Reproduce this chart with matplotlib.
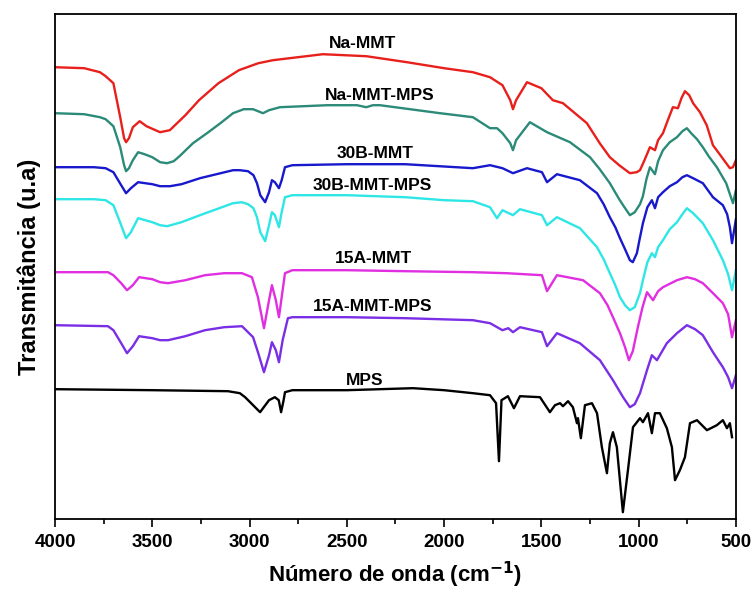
import matplotlib
matplotlib.use("Agg")
import matplotlib.pyplot as plt
from matplotlib.ticker import MultipleLocator

plt.rcParams['font.family'] = ['Liberation Sans', 'DejaVu Sans']
plt.rcParams['font.weight'] = 'bold'

# espectros (numero de onda, transmitancia em u.a.)
na_mmt_wn = [4000, 3850, 3769, 3740, 3700, 3665, 3645, 3635, 3620, 3600, 3565, 3530, 3460, 3410, 3330,
             3260, 3160, 3055, 2955, 2880, 2623, 2400, 2191, 2000, 1852, 1764, 1700, 1660, 1646, 1630,
             1574, 1500, 1441, 1389, 1266, 1200, 1148, 1100, 1045, 1010, 993, 970, 942, 916, 900,
             875, 850, 824, 798, 780, 762, 740, 720, 685, 650, 618, 580, 531, 515, 500]
na_mmt_t = [452, 451, 447, 443, 436, 402, 381, 377, 381, 392, 398, 393, 387, 389, 404,
            419, 436, 449, 456, 459, 465, 463, 457, 451, 447, 442, 434, 419, 410, 419,
            437, 431, 419, 416, 396, 376, 362, 354, 346, 347, 349, 359, 372, 369, 379,
            386, 399, 412, 411, 421, 428, 424, 416, 407, 394, 374, 364, 351, 352, 359]

na_mps_wn = [4000, 3850, 3769, 3740, 3700, 3665, 3645, 3635, 3620, 3600, 3573, 3540, 3500, 3460, 3424,
             3390, 3360, 3291, 3219, 3150, 3085, 3030, 2982, 2931, 2900, 2844, 2600, 2448, 2400, 2366,
             2330, 2021, 1852, 1764, 1728, 1700, 1660, 1646, 1630, 1559, 1471, 1353, 1250, 1200, 1148,
             1100, 1080, 1045, 1020, 993, 978, 960, 942, 916, 900, 875, 840, 803, 775, 752,
             730, 700, 670, 640, 598, 550, 515, 500]
na_mps_t = [406, 405, 402, 400, 393, 372, 354, 348, 351, 359, 367, 365, 362, 357, 356,
            358, 363, 376, 386, 396, 406, 410, 410, 406, 409, 412, 414, 414, 412, 414,
            414, 406, 402, 391, 391, 386, 376, 369, 379, 397, 387, 377, 362, 350, 336,
            320, 314, 304, 307, 315, 323, 340, 352, 345, 358, 369, 377, 382, 388, 391,
            386, 380, 372, 363, 352, 336, 316, 329]

b30_wn = [4000, 3800, 3740, 3700, 3660, 3635, 3610, 3573, 3500, 3460, 3409, 3350, 3255, 3170, 3085,
          3050, 3008, 2980, 2962, 2945, 2920, 2900, 2885, 2870, 2849, 2835, 2818, 2780, 2500, 2200,
          1852, 1764, 1700, 1646, 1574, 1497, 1471, 1420, 1302, 1214, 1180, 1148, 1120, 1096, 1070,
          1045, 1030, 1009, 995, 978, 955, 932, 916, 900, 875, 840, 803, 775, 752, 720,
          700, 670, 618, 567, 545, 531, 520, 500]
b30_t = [352, 352, 351, 347, 334, 326, 331, 337, 335, 333, 333, 335, 341, 345, 349,
         349, 348, 344, 336, 324, 317, 327, 339, 337, 331, 339, 352, 354, 355, 355,
         351, 354, 351, 346, 351, 347, 337, 345, 339, 326, 315, 302, 292, 281, 270,
         259, 257, 266, 280, 296, 312, 319, 311, 322, 327, 333, 337, 342, 344, 341,
         339, 336, 322, 314, 305, 292, 276, 300]

b30_mps_wn = [4000, 3800, 3740, 3700, 3660, 3635, 3610, 3573, 3500, 3460, 3424, 3350, 3255, 3170, 3085,
              3040, 3008, 2980, 2962, 2945, 2920, 2900, 2885, 2870, 2849, 2835, 2818, 2780, 2500, 2200,
              2000, 1852, 1764, 1728, 1700, 1646, 1610, 1497, 1471, 1420, 1302, 1214, 1180, 1148, 1120,
              1096, 1070, 1045, 1020, 993, 978, 955, 932, 916, 900, 875, 840, 803, 775, 752,
              720, 670, 618, 567, 540, 520, 500]
b30_mps_t = [320, 320, 319, 314, 294, 281, 287, 301, 297, 294, 293, 297, 304, 310, 316,
             317, 315, 311, 302, 287, 278, 294, 307, 304, 292, 307, 322, 324, 324, 322,
             319, 318, 312, 301, 309, 304, 310, 304, 294, 302, 291, 272, 260, 246, 234,
             222, 214, 209, 212, 226, 239, 257, 266, 262, 272, 279, 290, 297, 305, 311,
             306, 296, 279, 259, 245, 229, 249]

a15_wn = [4000, 3728, 3700, 3660, 3630, 3600, 3568, 3500, 3460, 3419, 3330, 3229, 3130, 3039, 2988,
          2957, 2926, 2900, 2885, 2865, 2849, 2830, 2818, 2780, 2500, 2200, 1852, 1680, 1497, 1471,
          1420, 1286, 1199, 1160, 1132, 1096, 1070, 1050, 1030, 1004, 980, 957, 926, 900, 875,
          803, 752, 710, 670, 618, 567, 540, 520, 500]
a15_t = [247, 247, 244, 236, 229, 234, 242, 240, 237, 236, 239, 244, 246, 246, 242,
         222, 191, 219, 234, 219, 202, 229, 246, 249, 249, 248, 247, 246, 244, 228,
         244, 239, 226, 214, 202, 186, 172, 159, 168, 192, 212, 227, 219, 228, 232,
         239, 242, 240, 236, 226, 216, 205, 182, 199]

a15_mps_wn = [4000, 3728, 3700, 3660, 3630, 3600, 3568, 3500, 3460, 3419, 3330, 3229, 3130, 3039, 2982,
              2957, 2926, 2900, 2885, 2865, 2849, 2830, 2803, 2780, 2500, 2200, 1852, 1764, 1700, 1670,
              1646, 1610, 1497, 1471, 1420, 1302, 1199, 1132, 1080, 1045, 1020, 993, 957, 932, 906,
              855, 803, 752, 710, 670, 618, 567, 540, 520, 500]
a15_mps_t = [194, 193, 189, 176, 166, 173, 183, 181, 179, 179, 183, 189, 192, 193, 182,
             167, 147, 164, 177, 169, 157, 179, 201, 202, 202, 201, 199, 196, 189, 191,
             187, 192, 187, 173, 186, 176, 159, 139, 122, 112, 115, 126, 149, 164, 159,
             176, 186, 194, 190, 184, 167, 152, 142, 131, 144]

mps_wn = [4000, 3500, 3111, 3050, 3023, 2946, 2900, 2870, 2850, 2838, 2825, 2818, 2780, 2500, 2160,
          2000, 1852, 1764, 1733, 1718, 1705, 1672, 1641, 1610, 1507, 1456, 1430, 1404, 1389, 1363,
          1338, 1317, 1312, 1297, 1276, 1240, 1214, 1189, 1163, 1148, 1132, 1112, 1081, 1055, 1029,
          993, 978, 952, 932, 916, 891, 855, 829, 813, 788, 762, 736, 700, 649, 598,
          567, 546, 531, 520]
mps_t = [130, 129, 128, 126, 122, 107, 119, 122, 119, 107, 119, 127, 129, 129, 131,
         129, 126, 124, 116, 58, 119, 123, 111, 123, 122, 107, 114, 116, 113, 118,
         112, 96, 101, 81, 114, 116, 106, 72, 46, 76, 87, 72, 7, 49, 92,
         101, 97, 106, 86, 106, 106, 91, 72, 39, 49, 62, 96, 99, 89, 94,
         99, 91, 96, 82]

labels = ["Na-MMT", "Na-MMT-MPS", "30B-MMT", "30B-MMT-MPS", "15A-MMT", "15A-MMT-MPS", "MPS"]
colors = ["#e8201c", "#2b8a78", "#1818cc", "#2ee6e6", "#e02ee0", "#7a2ee6", "#000000"]
series = [(na_mmt_wn, na_mmt_t), (na_mps_wn, na_mps_t), (b30_wn, b30_t), (b30_mps_wn, b30_mps_t),
          (a15_wn, a15_t), (a15_mps_wn, a15_mps_t), (mps_wn, mps_t)]
# onde fica o nome de cada curva
label_pos = [(2417, 476), (2330, 424), (2355, 366), (2370, 334), (2365, 261), (2370, 213), (2407, 139)]

fig = plt.figure(figsize=(7.54, 5.92), dpi=100)
ax = fig.add_axes([0.073, 0.123, 0.903, 0.853])

for (wn, t), c in zip(series, colors):
    ax.plot(wn, t, color=c, lw=1.7, solid_joinstyle='round')

for name, (x, y) in zip(labels, label_pos):
    ax.text(x, y, name, ha='center', va='center', fontsize=12.5, fontweight='bold')

ax.set_xlim(4000, 500)
ax.set_ylim(0, 505)
ax.xaxis.set_major_locator(MultipleLocator(500))
ax.xaxis.set_minor_locator(MultipleLocator(250))
ax.set_yticks([])
ax.tick_params(axis='x', which='major', direction='out', length=6, width=1.2, labelsize=13.5, pad=5)
ax.tick_params(axis='x', which='minor', direction='out', length=3.5, width=1.2)
for lab in ax.get_xticklabels():
    lab.set_fontweight('bold')
for s in ax.spines.values():
    s.set_linewidth(1.3)

ax.set_xlabel("Número de onda (cm$^{\\mathbf{-1}}$)", fontsize=16, fontweight='bold', labelpad=6)
ax.set_ylabel("Transmitância (u.a)", fontsize=17, fontweight='bold', labelpad=10)

fig.savefig("out.png", dpi=100)
